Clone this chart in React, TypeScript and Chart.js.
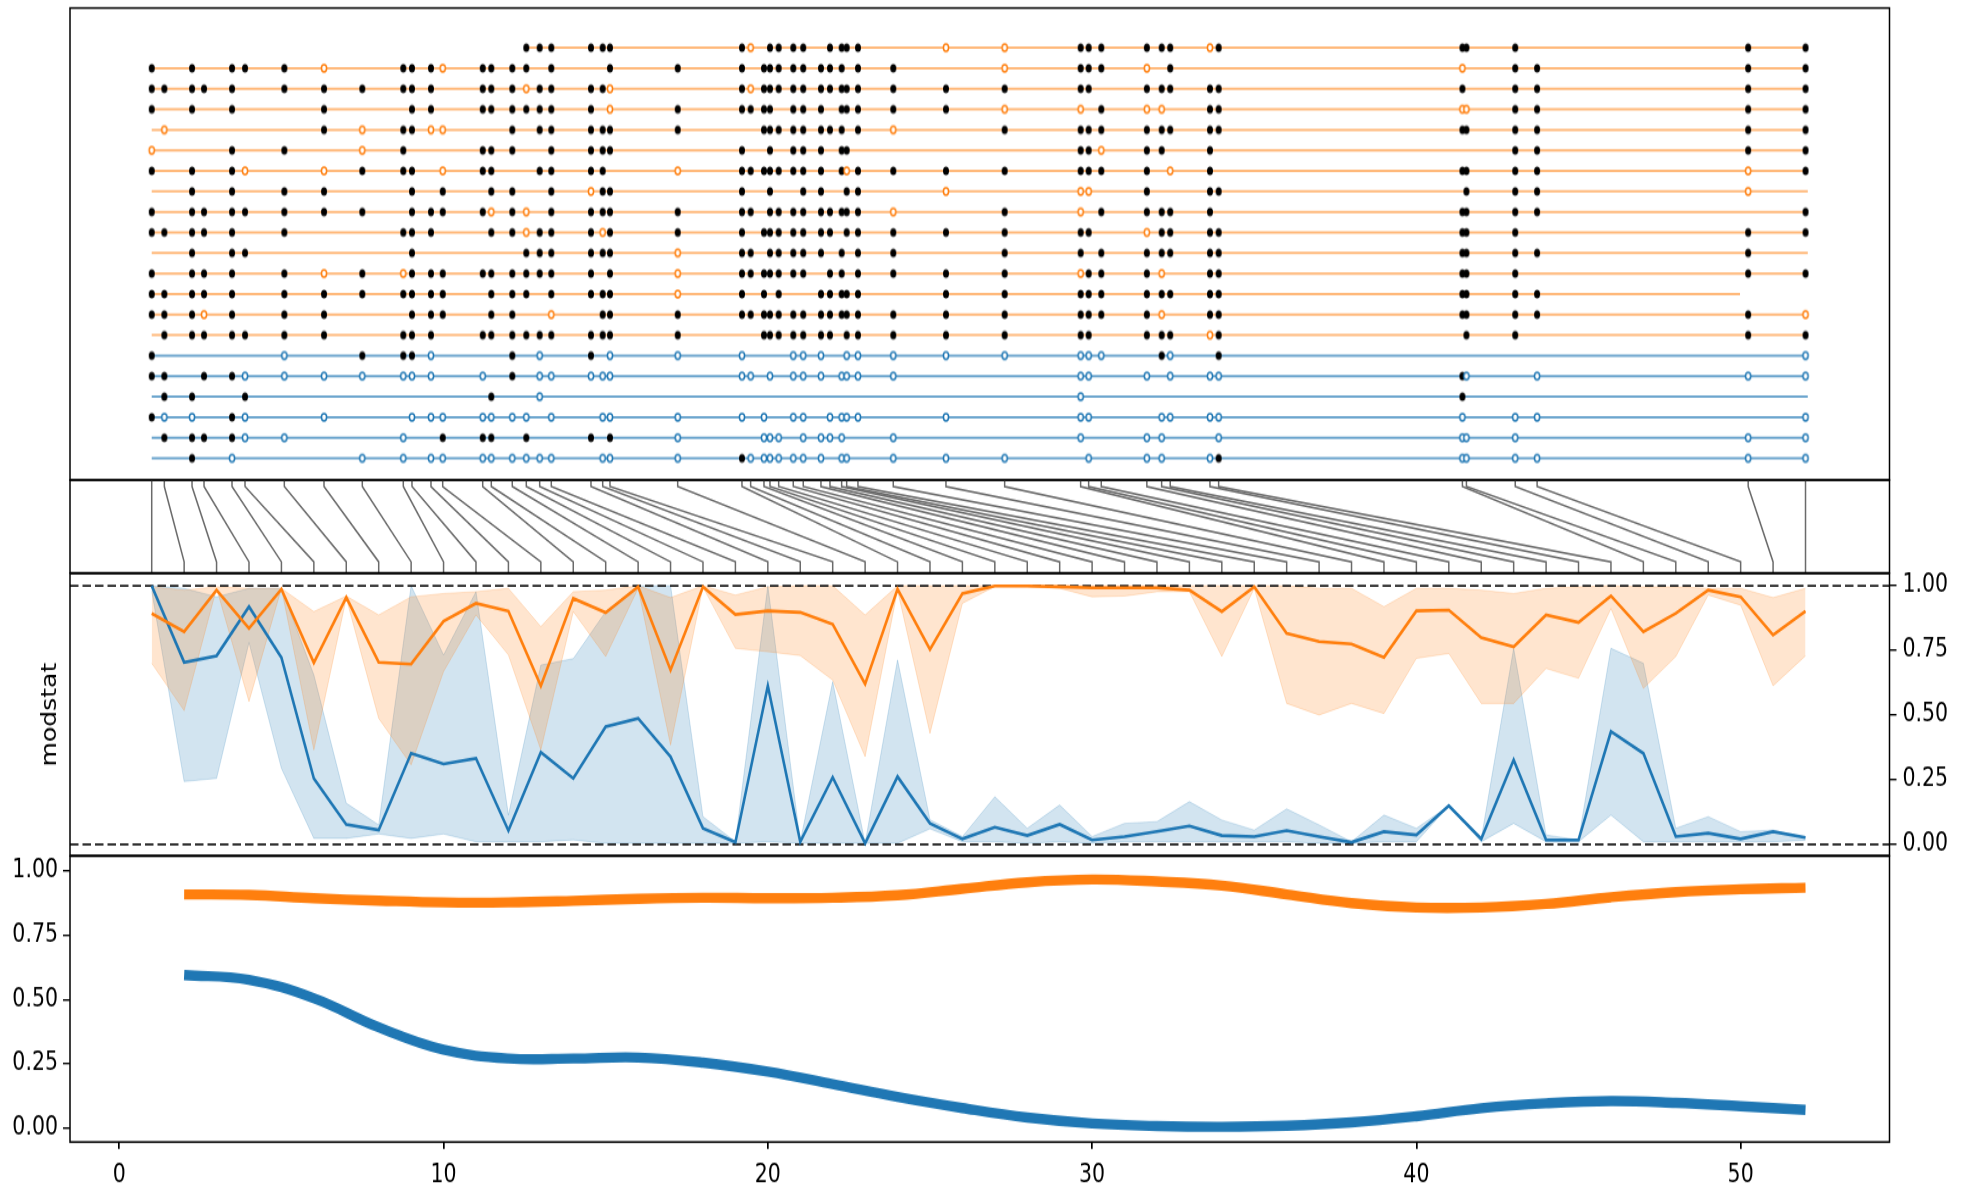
import React, { useEffect, useRef } from "react";
import { Chart, registerables } from "chart.js";

Chart.register(...registerables);

// ---------------- data ----------------
const X_MIN = -1.52;
const X_MAX = 54.59;

// physical positions of the 52 sites (same units as the index axis)
const sitePositions = [
  1.0, 1.389, 2.243, 2.613, 3.476, 3.877, 5.089, 6.313, 7.494, 8.758,
  9.026, 9.612, 9.973, 11.207, 11.472, 12.119, 12.551, 12.964, 13.322, 14.546,
  14.907, 15.132, 17.22, 19.202, 19.47, 19.881, 20.066, 20.334, 20.784, 21.092,
  21.638, 21.916, 22.276, 22.431, 22.779, 23.868, 25.493, 27.303, 29.646, 29.893,
  30.282, 31.688, 32.144, 32.409, 33.634, 33.902, 41.419, 41.543, 43.048, 43.723,
  50.232, 52.0,
];

// B = filled black marker, O = open marker, . = nothing
const haplotypes = [
  ".......... ......BBBB BB.BO.BBBB .BBBB.OOBB BBBBOBBBB. BB",
  "B.B.BBBO.B BBOBBBB.B. .BBB.BBBBB BBB.BB.OBB BO.B..O.BB BB",
  "BBBBB.BBBB BB.BBBOBBB BO.BOBBBBB BBBBBBBBBB .BBBBBB.BB BB",
  "B.B.B..B.. BB.BBBBBBB .OBBBBB.BB B.BBBBBOO. BOO.BBOOBB BB",
  ".O.....BOB BOO..B.BBB BBB..BBBBB BBB.BO.BBB BBBBBBBBBB BB",
  "O...B.B.OB ...BBB..BB BB.B..B.BB B.BB....BB OBB.B...BB BB",
  "B.B.BO.OBB B.OBB..BBB B.OBBBBBBB B.BOBBBBBB BB.OB.BBBB OB",
  "..B.B.BB.. B.B.BB..BO BB.B..B..B B..BB.O.OO .B..BB.BBB O.",
  "B.BBBBBBB. BBBBOBO.BB BBBBB.BBBB BBBBBO.BO. BBBBB.BBBB .B",
  "BBBBB.B..B BB..BBOBBB OBBB.BBBBB BB.BBBBBBB .OBBBBBBB. BB",
  "..B.BB.... B.....BBBB BBOBB.BBBB B.B.BB.BB. BBBBBBBBBB B.",
  "B.BBB.BOBO BBBBBBBBBB .BOBBBBBBB .BB.BBBBOB BBO.BBBBB. BB",
  "BBBBB.BBBB BBB.BBB.BB BBOB.B.B.. BBBBB.BBBB BBBBBBBBBB ..",
  "BBBOB.BB.. BBB.BB..O. BBBBBBBBBB BBBBBBBBBB BBO.BBBBBB BO",
  ".BBBBBBB.B BB.BBBBBBB BBB..BBBBB BB.BBBBBBB .BBBOB.BB. BB",
  "B.....O.BB BO...B.O.B .OOO....OO O..OOOOOOO O.BO.B.... .O",
  "BB.BBOOOOO OO.O.B.OOO OO.OO.O.OO O.OOOO..OO .O.OOOBO.O OO",
  ".BB..B.... ....B..O.. .......... ........O. ......B... ..",
  "BOO.BO.O.. OOOOOOO.O. OOOO.O..OO .OOOO.O.OO ..OOOOO.OO .O",
  ".BBBBOO..O ..BBB.B..B .BO..OOO.O OOO..O..O. .OO..OOOO. OO",
  "..B.O...OO .OOOOOOOO. OOOBOOOOOO O.OO.OOO.O .OO.OBOOOO OO",
];

// 0 = orange population, 1 = blue population
const rowPopulation = [0, 0, 0, 0, 0, 0, 0, 0, 0, 0, 0, 0, 0, 0, 0, 1, 1, 1, 1, 1, 1];
const rowStart = [12.551, 1, 1, 1, 1, 1, 1, 1, 1, 1, 1, 1, 1, 1, 1, 1, 1, 1, 1, 1, 1];
const rowEnd = [
  52.07, 52.07, 52.07, 52.07, 52.07, 52.07, 52.07, 52.07, 52.07, 52.07,
  52.07, 52.07, 49.98, 52.07, 52.07, 52.07, 52.07, 52.07, 52.07, 52.07, 52.07,
];

// modstat per index (1..52)
const blueMean = [
  1.0, 0.704, 0.729, 0.919, 0.722, 0.255, 0.077, 0.055, 0.352, 0.311,
  0.332, 0.053, 0.356, 0.255, 0.455, 0.487, 0.339, 0.062, 0.008, 0.613,
  0.01, 0.259, 0.004, 0.262, 0.081, 0.021, 0.066, 0.034, 0.077, 0.017,
  0.03, 0.05, 0.071, 0.034, 0.03, 0.053, 0.03, 0.008, 0.049, 0.036,
  0.149, 0.021, 0.326, 0.017, 0.017, 0.436, 0.352, 0.03, 0.043, 0.021,
  0.049, 0.026,
];
const blueLow = [
  0.98, 0.243, 0.255, 0.78, 0.294, 0.023, 0.023, 0.04, 0.023, 0.04,
  0.01, 0.01, 0.01, 0.017, 0.004, 0.004, 0.004, 0.004, 0.004, 0.01,
  0.004, 0.004, 0.004, 0.004, 0.06, 0.01, 0.01, 0.004, 0.01, 0.004,
  0.01, 0.01, 0.01, 0.01, 0.01, 0.01, 0.004, 0.004, 0.01, 0.01,
  0.149, 0.01, 0.081, 0.01, 0.01, 0.113, 0.01, 0.01, 0.01, 0.01,
  0.01, 0.016,
];
const blueHigh = [
  1.0, 0.99, 0.957, 0.99, 0.99, 0.655, 0.159, 0.075, 1.0, 0.732,
  0.977, 0.113, 0.693, 0.718, 0.9, 1.0, 1.0, 0.107, 0.01, 1.0,
  0.01, 0.629, 0.004, 0.713, 0.095, 0.03, 0.184, 0.062, 0.152, 0.03,
  0.081, 0.088, 0.165, 0.094, 0.055, 0.137, 0.075, 0.01, 0.113, 0.062,
  0.149, 0.021, 0.758, 0.036, 0.017, 0.758, 0.7, 0.062, 0.107, 0.049,
  0.055, 0.026,
];
const orangeMean = [
  0.893, 0.822, 0.983, 0.835, 0.987, 0.702, 0.955, 0.704, 0.697, 0.863,
  0.932, 0.902, 0.613, 0.951, 0.896, 0.996, 0.674, 0.996, 0.889, 0.903,
  0.897, 0.851, 0.62, 0.987, 0.754, 0.97, 0.999, 0.999, 0.996, 0.992,
  0.992, 0.992, 0.983, 0.9, 0.996, 0.816, 0.784, 0.775, 0.723, 0.903,
  0.906, 0.799, 0.764, 0.887, 0.858, 0.961, 0.822, 0.893, 0.983, 0.957,
  0.809, 0.902,
];
const orangeLow = [
  0.7, 0.517, 0.99, 0.552, 0.99, 0.365, 0.952, 0.487, 0.307, 0.668,
  0.887, 0.732, 0.365, 0.9, 0.726, 0.99, 0.384, 0.995, 0.758, 0.745,
  0.73, 0.635, 0.339, 0.983, 0.429, 0.932, 0.997, 0.995, 0.99, 0.957,
  0.96, 0.977, 0.977, 0.726, 0.99, 0.545, 0.5, 0.545, 0.506, 0.719,
  0.738, 0.545, 0.545, 0.68, 0.642, 0.912, 0.603, 0.726, 0.964, 0.925,
  0.613, 0.729,
];
const orangeHigh = [
  0.996, 0.983, 0.996, 0.99, 0.99, 0.9, 0.96, 0.887, 0.957, 0.97,
  0.977, 0.99, 0.842, 0.977, 0.983, 1.0, 0.954, 1.0, 0.964, 0.996,
  1.0, 1.0, 0.887, 1.0, 1.0, 1.0, 1.0, 1.0, 1.0, 1.0,
  1.0, 1.0, 1.0, 1.0, 1.0, 1.0, 0.99, 0.99, 0.919, 0.99,
  0.99, 0.983, 0.97, 0.99, 0.996, 1.0, 0.996, 0.996, 0.99, 0.99,
  0.954, 0.99,
];

// smoothed curves (bottom panel)
const smoothX = [2, 4, 6, 8, 10, 12, 14, 16, 18, 20, 22, 24, 26, 28, 30, 32, 34, 36, 38, 40, 42, 44, 46, 48, 50, 52];
const blueSmooth = [
  0.595, 0.577, 0.505, 0.392, 0.305, 0.271, 0.271, 0.275, 0.255, 0.22,
  0.172, 0.122, 0.079, 0.042, 0.019, 0.009, 0.006, 0.01, 0.023, 0.047,
  0.078, 0.097, 0.106, 0.099, 0.086, 0.072,
];
const orangeSmooth = [
  0.908, 0.906, 0.893, 0.884, 0.877, 0.877, 0.883, 0.891, 0.895, 0.893,
  0.895, 0.905, 0.93, 0.955, 0.966, 0.958, 0.942, 0.908, 0.874, 0.857,
  0.857, 0.871, 0.897, 0.917, 0.928, 0.934,
];

const modTicks = [0, 0.25, 0.5, 0.75, 1];
const bottomYTicks = [0, 0.25, 0.5, 0.75, 1];
const bottomXTicks = [0, 10, 20, 30, 40, 50];

// ---------------- layout / styles ----------------
// the figure is slightly taller than wide in its rendering: each panel is drawn
// at a reduced height and stretched vertically with CSS.
const SY = 1.22;
const PANELS = [
  { top: 0, h: 482 },
  { top: 478, h: 97 },
  { top: 571, h: 287 },
  { top: 854, h: 333 },
];
const innerH = (h: number) => Math.round(h / SY);
const stretch = (h: number) => h / innerH(h);

const ORANGE = "#ff7f0e";
const BLUE = "#1f77b4";
const FONT = { family: "'DejaVu Sans', sans-serif", size: 20.5 };

const framePlugin = {
  id: "frame",
  afterDraw(chart: any) {
    const { ctx, chartArea: a } = chart;
    ctx.save();
    ctx.strokeStyle = "#000";
    ctx.lineWidth = 1.5;
    ctx.strokeRect(a.left, a.top, a.right - a.left, a.bottom - a.top);
    ctx.restore();
  },
};

function markerImage(fill: string, stroke: string | null, rx: number, ry: number, lw: number) {
  const c = document.createElement("canvas");
  c.width = 12;
  c.height = 12;
  const g = c.getContext("2d")!;
  g.beginPath();
  g.ellipse(6, 6, rx, ry, 0, 0, Math.PI * 2);
  g.fillStyle = fill;
  g.fill();
  if (stroke) {
    g.strokeStyle = stroke;
    g.lineWidth = lw;
    g.stroke();
  }
  return c;
}

const zeroPad = (s: any) => {
  s.paddingTop = 0;
  s.paddingBottom = 0;
  s.paddingLeft = 0;
  s.paddingRight = 0;
};

const baseOptions = (padding: any) => ({
  animation: false as const,
  responsive: false,
  devicePixelRatio: 1,
  events: [] as any[],
  layout: { padding, autoPadding: false },
  plugins: { legend: { display: false }, tooltip: { enabled: false } },
});

export default function App() {
  const refA = useRef<HTMLCanvasElement>(null);
  const refB = useRef<HTMLCanvasElement>(null);
  const refC = useRef<HTMLCanvasElement>(null);
  const refD = useRef<HTMLCanvasElement>(null);

  useEffect(() => {
    Chart.defaults.font.family = FONT.family;
    Chart.defaults.color = "#000";

    const sA = stretch(PANELS[0].h);
    const sB = stretch(PANELS[1].h);
    const sC = stretch(PANELS[2].h);
    const sD = stretch(PANELS[3].h);

    const blackImg = markerImage("#000", null, 3.0, 3.5, 0);
    const orangeImg = markerImage("#fff", ORANGE, 2.6, 2.9, 1.5);
    const blueImg = markerImage("#fff", BLUE, 2.6, 2.9, 1.5);

    // ---------- top panel: haplotypes ----------
    const rowLines = haplotypes.map((_, r) => ({
      type: "line",
      data: [
        { x: rowStart[r], y: r + 1 },
        { x: rowEnd[r], y: r + 1 },
      ],
      borderColor: rowPopulation[r] === 0 ? "rgba(255,127,14,0.55)" : "rgba(31,119,180,0.65)",
      borderWidth: 2,
      pointRadius: 0,
      borderCapStyle: "butt",
      order: 1,
    }));
    const filled: any[] = [];
    const openOrange: any[] = [];
    const openBlue: any[] = [];
    haplotypes.forEach((h, r) => {
      const s = h.replace(/ /g, "");
      for (let j = 0; j < s.length; j++) {
        const p = { x: sitePositions[j], y: r + 1 };
        if (s[j] === "B") filled.push(p);
        else if (s[j] === "O") (rowPopulation[r] === 0 ? openOrange : openBlue).push(p);
      }
    });
    const markerSet = (data: any[], img: any) => ({
      type: "scatter",
      data,
      pointStyle: img,
      pointRadius: 4,
      order: 0,
    });

    const chartA = new Chart(refA.current!, {
      type: "scatter",
      data: {
        datasets: [
          ...rowLines,
          markerSet(openOrange, orangeImg),
          markerSet(openBlue, blueImg),
          markerSet(filled, blackImg),
        ] as any,
      },
      options: {
        ...baseOptions({ left: 70, right: 78.5, top: 8 / sA, bottom: 2 / sA }),
        scales: {
          x: { type: "linear", min: X_MIN, max: X_MAX, display: false },
          y: { type: "linear", min: -0.934, max: 22.06, reverse: true, display: false },
        },
      } as any,
      plugins: [framePlugin],
    });

    // ---------- connection panel ----------
    const connSets = sitePositions.map((pos, i) => ({
      type: "line",
      data: [
        { x: pos, y: 1 },
        { x: pos, y: 0.93 },
        { x: i + 1, y: 0.12 },
        { x: i + 1, y: 0 },
      ],
      borderColor: "#6a6a6a",
      borderWidth: 1.5,
      pointRadius: 0,
      tension: 0,
    }));
    const chartB = new Chart(refB.current!, {
      type: "scatter",
      data: { datasets: connSets as any },
      options: {
        ...baseOptions({ left: 70, right: 78.5, top: 2 / sB, bottom: 2 / sB }),
        scales: {
          x: { type: "linear", min: X_MIN, max: X_MAX, display: false },
          y: { type: "linear", min: 0, max: 1, display: false },
        },
      } as any,
      plugins: [framePlugin],
    });

    // ---------- modstat panel ----------
    const pts = (arr: number[]) => arr.map((v, i) => ({ x: i + 1, y: v }));
    const bandLine = (arr: number[], rgba: string, fill: any, order: number) => ({
      type: "line",
      data: pts(arr),
      borderColor: rgba,
      backgroundColor: rgba,
      borderWidth: 1,
      pointRadius: 0,
      fill,
      order,
    });
    const dashed = (y: number) => ({
      type: "line",
      data: [
        { x: X_MIN, y },
        { x: X_MAX, y },
      ],
      borderColor: "#1a1a1a",
      borderWidth: 1.7,
      borderDash: [8.5, 4],
      pointRadius: 0,
      order: 2,
    });
    const chartC = new Chart(refC.current!, {
      type: "scatter",
      data: {
        datasets: [
          dashed(1),
          dashed(0),
          bandLine(blueLow, "rgba(31,119,180,0.2)", false, 5),
          bandLine(blueHigh, "rgba(31,119,180,0.2)", "-1", 5),
          bandLine(orangeLow, "rgba(255,127,14,0.2)", false, 4),
          bandLine(orangeHigh, "rgba(255,127,14,0.2)", "-1", 4),
          { type: "line", data: pts(blueMean), borderColor: BLUE, borderWidth: 2.6, pointRadius: 0, order: 1 },
          { type: "line", data: pts(orangeMean), borderColor: ORANGE, borderWidth: 2.6, pointRadius: 0, order: 0 },
        ] as any,
      },
      options: {
        ...baseOptions({ left: 0, right: 0, top: 2.5 / sC, bottom: 2.5 / sC }),
        scales: {
          x: { type: "linear", min: X_MIN, max: X_MAX, display: false },
          yL: {
            type: "linear",
            position: "left",
            min: -0.0433,
            max: 1.0472,
            afterFit: (s: any) => {
              s.width = 70;
              zeroPad(s);
            },
            grid: { display: false },
            border: { display: false },
            ticks: { display: false },
            title: { display: true, text: "modstat", font: FONT, color: "#000", padding: { top: 38, bottom: 0 } },
          },
          y: {
            type: "linear",
            position: "right",
            min: -0.0433,
            max: 1.0472,
            afterBuildTicks: (s: any) => {
              s.ticks = modTicks.map((v) => ({ value: v }));
            },
            afterFit: (s: any) => {
              s.width = 78.5;
              zeroPad(s);
            },
            grid: { drawOnChartArea: false, drawTicks: true, tickLength: 7, color: "#000", lineWidth: 1.4 },
            border: { display: false },
            ticks: { padding: 6, color: "#000", font: FONT, callback: (v: any) => Number(v).toFixed(2) },
          },
        },
      } as any,
      plugins: [framePlugin],
    });

    // ---------- bottom panel ----------
    const sm = (arr: number[]) => arr.map((v, i) => ({ x: smoothX[i], y: v }));
    const chartD = new Chart(refD.current!, {
      type: "scatter",
      data: {
        datasets: [
          { type: "line", data: sm(blueSmooth), borderColor: BLUE, borderWidth: 8.4, pointRadius: 0, tension: 0.4, borderCapStyle: "butt" },
          { type: "line", data: sm(orangeSmooth), borderColor: ORANGE, borderWidth: 8.4, pointRadius: 0, tension: 0.4, borderCapStyle: "butt" },
        ] as any,
      },
      options: {
        ...baseOptions({ left: 0, right: 78.5, top: 2 / sD, bottom: 0 }),
        scales: {
          x: {
            type: "linear",
            min: X_MIN,
            max: X_MAX,
            afterBuildTicks: (s: any) => {
              s.ticks = bottomXTicks.map((v) => ({ value: v }));
            },
            afterFit: (s: any) => {
              s.height = 45 / sD;
              zeroPad(s);
            },
            grid: { drawOnChartArea: false, drawTicks: true, tickLength: 5.7, color: "#000", lineWidth: 1.7 },
            border: { display: false },
            ticks: { padding: 10, color: "#000", font: FONT, maxRotation: 0, callback: (v: any) => String(v) },
          },
          y: {
            type: "linear",
            position: "left",
            min: -0.053,
            max: 1.057,
            afterBuildTicks: (s: any) => {
              s.ticks = bottomYTicks.map((v) => ({ value: v }));
            },
            afterFit: (s: any) => {
              s.width = 70;
              zeroPad(s);
            },
            grid: { drawOnChartArea: false, drawTicks: true, tickLength: 7, color: "#000", lineWidth: 1.4 },
            border: { display: false },
            ticks: { padding: 5, color: "#000", font: FONT, callback: (v: any) => Number(v).toFixed(2) },
          },
        },
      } as any,
      plugins: [framePlugin],
    });

    return () => {
      chartA.destroy();
      chartB.destroy();
      chartC.destroy();
      chartD.destroy();
    };
  }, []);

  const refs = [refA, refB, refC, refD];

  return (
    <div style={{ position: "absolute", left: 0, top: 0, width: 1968, height: 1187, background: "#fff", overflow: "hidden" }}>
      {PANELS.map((p, i) => {
        const ih = innerH(p.h);
        return (
          <div
            key={i}
            style={{
              position: "absolute",
              left: 0,
              top: p.top,
              width: 1968,
              height: ih,
              transform: `scaleY(${p.h / ih})`,
              transformOrigin: "0 0",
            }}
          >
            <canvas ref={refs[i]} width={1968} height={ih} style={{ display: "block", width: 1968, height: ih }} />
          </div>
        );
      })}
    </div>
  );
}
